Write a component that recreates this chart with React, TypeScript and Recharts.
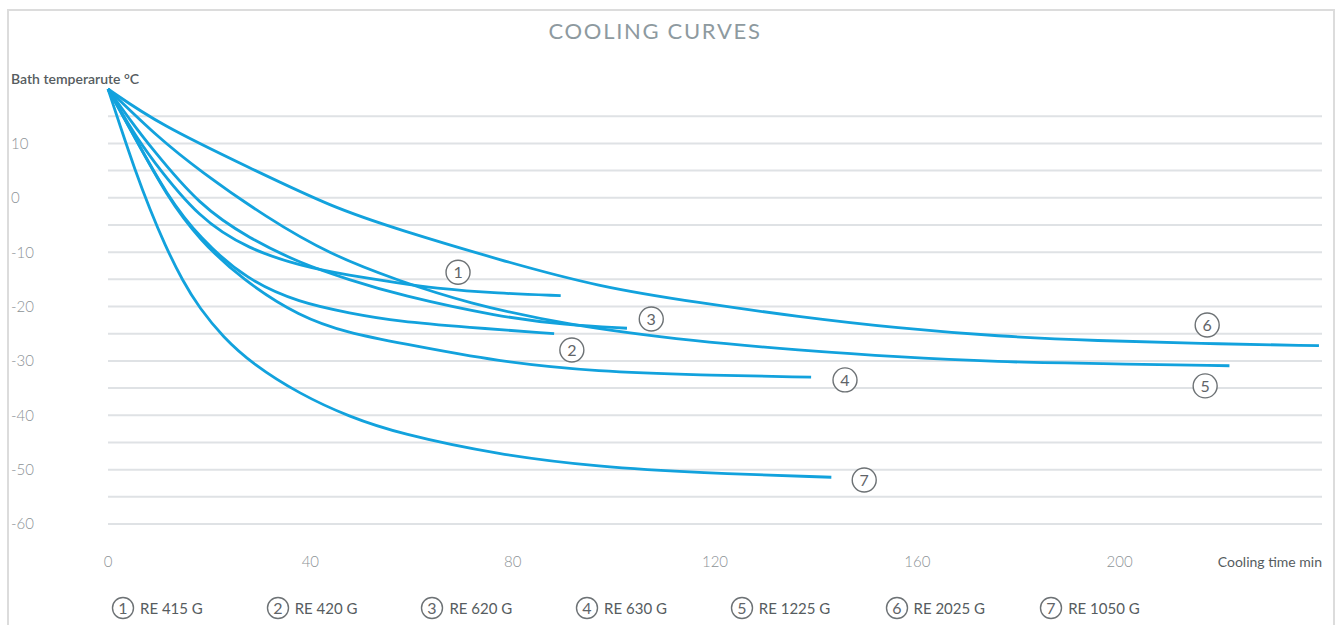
import { LineChart, Line, XAxis, YAxis, CartesianGrid, ReferenceDot } from "recharts"

// colours
const BLUE = "#12a2dd"
const GRID = "#dfe2e5"
const TICK = "#8c9296"
const DARK = "#565c60"
const FONT = "Lato, 'Open Sans', sans-serif"

// cooling time (min) -> bath temperature (°C)
const re415 = [[0, 20], [5, 12], [8.3, 7.5], [18.1, -4], [28, -9.5], [37.9, -12.5], [47.7, -14.3], [57.6, -15.7], [64, -16.6], [77.3, -17.6], [89.5, -18]]
const re420 = [[0, 20], [5, 11.6], [11.6, 0.5], [18.1, -7.4], [27.4, -15.1], [37.9, -19.3], [47.7, -21.2], [57.6, -22.8], [70.8, -23.8], [88.2, -25]]
const re620 = [[0, 20], [5, 13.5], [8.3, 9.5], [18.1, -1.5], [28, -7.5], [37.9, -12], [47.7, -15.1], [57.6, -17.9], [77.3, -21.9], [90.5, -23.4], [102.6, -24]]
const re630 = [[0, 20], [5, 11.6], [11.6, 0.3], [18.1, -7.8], [26.6, -15.1], [37.9, -21.9], [47.7, -24.9], [57.6, -26.7], [77.3, -30.2], [97, -32], [116.8, -32.6], [139, -33]]
const re1225 = [[0, 20], [10, 11], [18.1, 5], [31.4, -3.7], [44, -10.5], [57.6, -15.3], [70.8, -19.3], [90.5, -23.4], [116.8, -26.5], [136.5, -28], [156, -29.3], [176, -30.2], [195.7, -30.5], [221.7, -30.9]]
const re2025 = [[0, 20], [10.3, 13.4], [28, 5.5], [44.4, -1.8], [57.6, -5.9], [77.3, -11.4], [97, -16.4], [116.8, -19.3], [136.5, -21.9], [156.2, -24], [176, -25.5], [195.7, -26.3], [215.4, -26.8], [239.4, -27.2]]
const re1050 = [[0, 20], [2.4, 13.2], [5.3, 5.2], [8.3, -2.2], [11.2, -8.6], [14.8, -15.4], [18.1, -20.3], [22.7, -25.6], [28.6, -30.6], [37.9, -36.1], [47.7, -40.3], [57.6, -43.4], [77.3, -47.3], [97, -49.5], [116.8, -50.6], [143, -51.4]]

const models = ["RE 415 G", "RE 420 G", "RE 620 G", "RE 630 G", "RE 1225 G", "RE 2025 G", "RE 1050 G"]
const curves = [re415, re420, re620, re630, re1225, re2025, re1050]
// where the circled number sits next to each curve (time, temp)
const markerSpots = [[69.2, -13.7], [91.7, -28], [107.4, -22.3], [145.7, -33.5], [216.9, -34.6], [217.3, -23.4], [149.5, -51.9]]

const xTicks = [0, 40, 80, 120, 160, 200]
const yTicks = [10, 0, -10, -20, -30, -40, -50, -60]
const gridValues = [15, 10, 5, 0, -5, -10, -15, -20, -25, -30, -35, -40, -45, -50, -55, -60]

const series = models.map((name, i) => ({
  id: i + 1,
  name,
  data: curves[i].map(([t, v]) => ({ t, v })),
}))

function CircledNum({ cx, cy, n, r = 12 }: { cx: number; cy: number; n: number; r?: number }) {
  return (
    <g>
      <circle cx={cx} cy={cy} r={r} fill="#fff" stroke="#6d7275" strokeWidth={1.4} />
      <text x={cx} y={cy} dy="0.36em" textAnchor="middle" fontSize={16} fill="#5f6468" fontFamily={FONT}>
        {n}
      </text>
    </g>
  )
}

function LegendRow() {
  return (
    <div style={{ position: "absolute", left: 0, top: 596, width: 1341, height: 26, fontFamily: FONT }}>
      {series.map((s, i) => (
        <div
          key={s.id}
          style={{ position: "absolute", left: 111 + i * 154.7, top: 0, display: "flex", alignItems: "center" }}
        >
          <svg width={24} height={24}>
            <CircledNum cx={12} cy={12} n={s.id} r={10.5} />
          </svg>
          <span style={{ marginLeft: 5, fontSize: 15, color: DARK }}>{s.name}</span>
        </div>
      ))}
    </div>
  )
}

export default function App() {
  return (
    <div style={{ position: "absolute", left: 0, top: 0, width: 1341, height: 625, background: "#fff", overflow: "hidden" }}>
      {/* frame */}
      <div
        style={{
          position: "absolute",
          left: 7,
          top: 9,
          width: 1324,
          height: 640,
          borderLeft: "2px solid #dcdcdc",
          borderTop: "2px solid #dcdcdc",
          borderRight: "2px solid #dcdcdc",
        }}
      />
      <div
        style={{
          position: "absolute",
          left: 0,
          width: 1310,
          top: 16,
          textAlign: "center",
          fontFamily: FONT,
          fontSize: 22,
          letterSpacing: 1.7,
          color: "#8e9a9f",
          lineHeight: "30px",
        }}
      >
        COOLING CURVES
      </div>
      <div style={{ position: "absolute", left: 11, top: 69, fontFamily: FONT, fontSize: 14, fontWeight: 600, color: DARK, lineHeight: "20px" }}>
        Bath temperarute °C
      </div>
      <div style={{ position: "absolute", right: 19, top: 552, fontFamily: FONT, fontSize: 14, color: DARK, lineHeight: "20px" }}>
        Cooling time min
      </div>

      <LineChart
        width={1341}
        height={625}
        margin={{ top: 89, right: 19, bottom: 61, left: 0 }}
        style={{ position: "absolute", left: 0, top: 0 }}
      >
        <CartesianGrid horizontal vertical={false} horizontalValues={gridValues} stroke={GRID} strokeWidth={2} />
        <XAxis
          dataKey="t"
          type="number"
          domain={[0, 240]}
          ticks={xTicks}
          axisLine={false}
          tickLine={false}
          height={40}
          tick={(p: any) => (
            <text x={p.x} y={562} dy="0.36em" textAnchor="middle" fontSize={15} fontWeight={300} fill={TICK} fontFamily={FONT}>
              {p.payload.value}
            </text>
          )}
        />
        <YAxis
          type="number"
          domain={[-60, 20]}
          ticks={yTicks}
          width={108}
          axisLine={false}
          tickLine={false}
          tick={(p: any) => (
            <text x={11} y={p.y} dy="0.36em" textAnchor="start" fontSize={15} fontWeight={300} fill={TICK} fontFamily={FONT}>
              {p.payload.value}
            </text>
          )}
        />
        {series.map((s) => (
          <Line
            key={s.id}
            data={s.data}
            dataKey="v"
            name={s.name}
            type="basis"
            stroke={BLUE}
            strokeWidth={2.8}
            dot={false}
            activeDot={false}
            isAnimationActive={false}
          />
        ))}
        {series.map((s, i) => (
          <ReferenceDot
            key={`m${s.id}`}
            x={markerSpots[i][0]}
            y={markerSpots[i][1]}
            ifOverflow="visible"
            shape={(p: any) => <CircledNum cx={p.cx} cy={p.cy} n={s.id} />}
          />
        ))}
      </LineChart>
      <LegendRow />
    </div>
  )
}
